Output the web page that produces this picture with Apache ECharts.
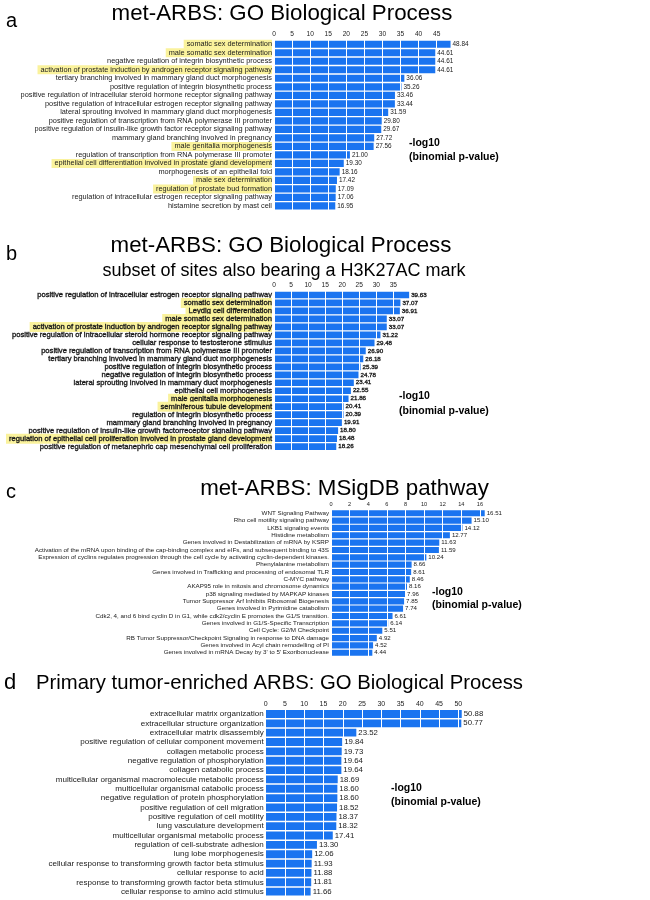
<!DOCTYPE html>
<html>
<head>
<meta charset="utf-8">
<script src="https://cdn.jsdelivr.net/npm/echarts@6/dist/echarts.min.js"></script>
<style>html,body{margin:0;padding:0;background:#fff}#chart{width:650px;height:900px}</style>
</head>
<body>
<div id="chart"></div>
<script>
// ---------- Panel a ----------
const catsA = [
  'somatic sex determination',
  'male somatic sex determination',
  'negative regulation of integrin biosynthetic process',
  'activation of prostate induction by androgen receptor signaling pathway',
  'tertiary branching involved in mammary gland duct morphogenesis',
  'positive regulation of integrin biosynthetic process',
  'positive regulation of intracellular steroid hormone receptor signaling pathway',
  'positive regulation of intracellular estrogen receptor signaling pathway',
  'lateral sprouting involved in mammary gland duct morphogenesis',
  'positive regulation of transcription from RNA polymerase III promoter',
  'positive regulation of insulin-like growth factor receptor signaling pathway',
  'mammary gland branching involved in pregnancy',
  'male genitalia morphogenesis',
  'regulation of transcription from RNA polymerase III promoter',
  'epithelial cell differentiation involved in prostate gland development',
  'morphogenesis of an epithelial fold',
  'male sex determination',
  'regulation of prostate bud formation',
  'regulation of intracellular estrogen receptor signaling pathway',
  'histamine secretion by mast cell'
];
const valsA = [48.84, 44.61, 44.61, 44.61, 36.06, 35.26, 33.46, 33.44, 31.59, 29.80,
               29.67, 27.72, 27.56, 21.00, 19.30, 18.16, 17.42, 17.09, 17.06, 16.95];
const hlA = [
  'somatic sex determination',
  'male somatic sex determination',
  'activation of prostate induction by androgen receptor signaling pathway',
  'male genitalia morphogenesis',
  'epithelial cell differentiation involved in prostate gland development',
  'male sex determination',
  'regulation of prostate bud formation'
];
const ticksA = [0, 5, 10, 15, 20, 25, 30, 35, 40, 45];

// ---------- Panel b ----------
const catsB = [
  'positive regulation of intracellular estrogen receptor signaling pathway',
  'somatic sex determination',
  'Leydig cell differentiation',
  'male somatic sex determination',
  'activation of prostate induction by androgen receptor signaling pathway',
  'positive regulation of intracellular steroid hormone receptor signaling pathway',
  'cellular response to testosterone stimulus',
  'positive regulation of transcription from RNA polymerase III promoter',
  'tertiary branching involved in mammary gland duct morphogenesis',
  'positive regulation of integrin biosynthetic process',
  'negative regulation of integrin biosynthetic process',
  'lateral sprouting involved in mammary duct morphogenesis',
  'epithelial cell morphogenesis',
  'male genitalia morphogenesis',
  'seminiferous tubule development',
  'regulation of integrin biosynthetic process',
  'mammary gland branching involved in pregnancy',
  'positive regulation of insulin-like growth factorreceptor signaling pathway',
  'regulation of epithelial cell proliferation involved in prostate gland development',
  'positive regulation of metanephric cap mesenchymal cell proliferation'
];
const valsB = [39.63, 37.07, 36.91, 33.07, 33.07, 31.22, 29.48, 26.90, 26.18, 25.39,
               24.78, 23.41, 22.55, 21.86, 20.41, 20.39, 19.91, 18.80, 18.48, 18.26];
const hlB = [
  'somatic sex determination',
  'Leydig cell differentiation',
  'male somatic sex determination',
  'activation of prostate induction by androgen receptor signaling pathway',
  'male genitalia morphogenesis',
  'seminiferous tubule development',
  'regulation of epithelial cell proliferation involved in prostate gland development'
];
const ticksB = [0, 5, 10, 15, 20, 25, 30, 35];

// ---------- Panel c ----------
const catsC = [
  'WNT Signaling Pathway',
  'Rho cell motility signaling pathway',
  'LKB1 signaling events',
  'Histidine metabolism',
  'Genes involved in Destabilization of mRNA by KSRP',
  'Activation of the mRNA upon binding of the cap-binding complex and eIFs, and subsequent binding to 43S',
  'Expression of cyclins regulates progression through the cell cycle by activating cyclin-dependent kinases.',
  'Phenylalanine metabolism',
  'Genes involved in Trafficking and processing of endosomal TLR',
  'C-MYC pathway',
  'AKAP95 role in mitosis and chromosome dynamics',
  'p38 signaling mediated by MAPKAP kinases',
  'Tumor Suppressor Arf Inhibits Ribosomal Biogenesis',
  'Genes involved in Pyrimidine catabolism',
  'Cdk2, 4, and 6 bind cyclin D in G1, while cdk2/cyclin E promotes the G1/S transition.',
  'Genes involved in G1/S-Specific Transcription',
  'Cell Cycle: G2/M Checkpoint',
  'RB Tumor Suppressor/Checkpoint Signaling in response to DNA damage',
  'Genes involved in Acyl chain remodelling of PI',
  "Genes involved in mRNA Decay by 3' to 5' Exoribonuclease"
];
const valsC = [16.51, 15.10, 14.12, 12.77, 11.63, 11.59, 10.24, 8.66, 8.61, 8.46,
               8.16, 7.96, 7.85, 7.74, 6.61, 6.14, 5.51, 4.92, 4.52, 4.44];
const ticksC = [0, 2, 4, 6, 8, 10, 12, 14, 16];

// ---------- Panel d ----------
const catsD = [
  'extracellular matrix organization',
  'extracellular structure organization',
  'extracellular matrix disassembly',
  'positive regulation of cellular component movement',
  'collagen metabolic process',
  'negative regulation of phosphorylation',
  'collagen catabolic process',
  'multicellular organismal macromolecule metabolic process',
  'multicellular organismal catabolic process',
  'negative regulation of protein phosphorylation',
  'positive regulation of cell migration',
  'positive regulation of cell motility',
  'lung vasculature development',
  'multicellular organismal metabolic process',
  'regulation of cell-substrate adhesion',
  'lung lobe morphogenesis',
  'cellular response to transforming growth factor beta stimulus',
  'cellular response to acid',
  'response to transforming growth factor beta stimulus',
  'cellular response to amino acid stimulus'
];
const valsD = [50.88, 50.77, 23.52, 19.84, 19.73, 19.64, 19.64, 18.69, 18.60, 18.60,
               18.52, 18.37, 18.32, 17.41, 13.30, 12.06, 11.93, 11.88, 11.81, 11.66];
const ticksD = [0, 5, 10, 15, 20, 25, 30, 35, 40, 45, 50];

// ---------- Texts ----------
const titles = [
  'met-ARBS: GO Biological Process',
  'met-ARBS: GO Biological Process',
  'subset of sites also bearing a H3K27AC mark',
  'met-ARBS: MSigDB pathway',
  'Primary tumor-enriched ARBS: GO Biological Process'
];
const panelLetters = ['a', 'b', 'c', 'd'];
const unitLines = ['-log10', '(binomial p-value)'];

// ---------- Build ----------
const SANS = "'Liberation Sans', Arial, Helvetica, sans-serif";
const BLUE = '#1a74f0';
const YELLOW = '#faf29c';

const panels = [
  {cats: catsA, vals: valsA, hl: hlA, ticks: ticksA, left: 274, k: 3.615, max: 50, interval: 5, top: 40.0, h: 170.2, lf: 7.35, vf: 6.4, tf: 6.6, bw: 0},
  {cats: catsB, vals: valsB, hl: hlB, ticks: ticksB, left: 274, k: 3.41, max: 40, interval: 5, top: 291.0, h: 159.6, lf: 7.6, vf: 6.2, tf: 6.6, bw: 0.35},
  {cats: catsC, vals: valsC, hl: [], ticks: ticksC, left: 331, k: 9.31, max: 18, interval: 2, top: 509.6, h: 146.8, lf: 6.25, vf: 6.1, tf: 5.6, bw: 0},
  {cats: catsD, vals: valsD, hl: [], ticks: ticksD, left: 265.7, k: 3.853, max: 55, interval: 5, top: 709.3, h: 187, lf: 8.05, vf: 7.8, tf: 7.0, bw: 0}
];

const grid = [], xAxis = [], yAxis = [], series = [];
panels.forEach((p, i) => {
  grid.push({left: p.left, top: p.top, width: p.k * p.max, height: p.h,
             containLabel: false, outerBoundsMode: 'none'});
  xAxis.push({
    type: 'value', gridIndex: i, position: 'top', min: 0, max: p.max, interval: p.interval, z: 5,
    axisLine: {show: false}, axisTick: {show: false},
    axisLabel: {
      fontFamily: SANS, fontSize: p.tf, color: '#222', margin: 2, hideOverlap: false,
      formatter: v => (p.ticks.indexOf(v) >= 0 ? String(v) : '')
    },
    splitLine: {show: true, lineStyle: {color: '#ffffff', width: 1}}
  });
  const lblStyle = {fontFamily: SANS, fontSize: p.lf, color: '#1a1a1a',
                    textBorderColor: p.bw ? '#1a1a1a' : 'transparent', textBorderWidth: p.bw};
  yAxis.push({
    type: 'category', gridIndex: i, inverse: true, data: p.cats,
    axisLine: {show: false}, axisTick: {show: false},
    axisLabel: Object.assign({
      interval: 0, margin: 2, hideOverlap: false,
      formatter: v => (p.hl.indexOf(v) >= 0 ? '{h|' + v + '}' : v),
      rich: {h: Object.assign({backgroundColor: YELLOW, padding: [1, 0, 1, 3]}, lblStyle)}
    }, lblStyle),
    splitLine: {show: false}
  });
  // blue bars (white grid lines of the axis are drawn over them)
  series.push({
    type: 'bar', xAxisIndex: i, yAxisIndex: i, data: p.vals, barCategoryGap: '16%', barGap: '-100%',
    itemStyle: {color: BLUE}, z: 2, animation: false
  });
  // same values again, invisible bars carrying the value labels above the grid lines
  series.push({
    type: 'bar', xAxisIndex: i, yAxisIndex: i, data: p.vals, barCategoryGap: '16%', barGap: '-100%',
    itemStyle: {color: 'rgba(0,0,0,0)'}, z: 10, silent: true, animation: false,
    label: {show: true, position: 'right', distance: 2, fontFamily: SANS, fontSize: p.vf,
            color: '#1a1a1a', textBorderColor: p.bw ? '#1a1a1a' : 'transparent', textBorderWidth: p.bw,
            formatter: d => d.value.toFixed(2)}
  });
});

// text placed by its baseline (top-aligned box shifted by 0.78 em)
function txt(text, x, baseline, size, bold, align) {
  return {type: 'text', x: x, y: baseline - 0.78 * size, silent: true, z: 20,
    style: {text: text, font: (bold ? 'bold ' : '') + size + 'px ' + SANS, fill: '#000',
            textAlign: align || 'left', align: align || 'left',
            textVerticalAlign: 'top', verticalAlign: 'top'}};
}
const graphic = [
  txt(titles[0], 282, 20.7, 22.3, false, 'center'),
  txt(titles[1], 281, 252.4, 22.3, false, 'center'),
  txt(titles[2], 284, 276, 18, false, 'center'),
  txt(titles[3], 344.5, 495, 22.3, false, 'center'),
  txt(titles[4], 279.5, 689.3, 20.3, false, 'center'),
  txt(panelLetters[0], 6, 26.7, 20),
  txt(panelLetters[1], 6, 260, 20),
  txt(panelLetters[2], 6, 498.3, 20),
  txt(panelLetters[3], 4, 689.3, 22),
  txt(unitLines[0], 409, 146, 10.5, true),
  txt(unitLines[1], 409, 160, 10.5, true),
  txt(unitLines[0], 399, 399, 10.5, true),
  txt(unitLines[1], 399, 413.8, 10.5, true),
  txt(unitLines[0], 432, 595, 10.5, true),
  txt(unitLines[1], 432, 608, 10.5, true),
  txt(unitLines[0], 391, 791, 10.5, true),
  txt(unitLines[1], 391, 805, 10.5, true)
];

const chart = echarts.init(document.getElementById('chart'), null, {renderer: 'canvas'});
chart.setOption({animation: false, backgroundColor: '#fff', grid, xAxis, yAxis, series, graphic});
</script>
</body>
</html>
